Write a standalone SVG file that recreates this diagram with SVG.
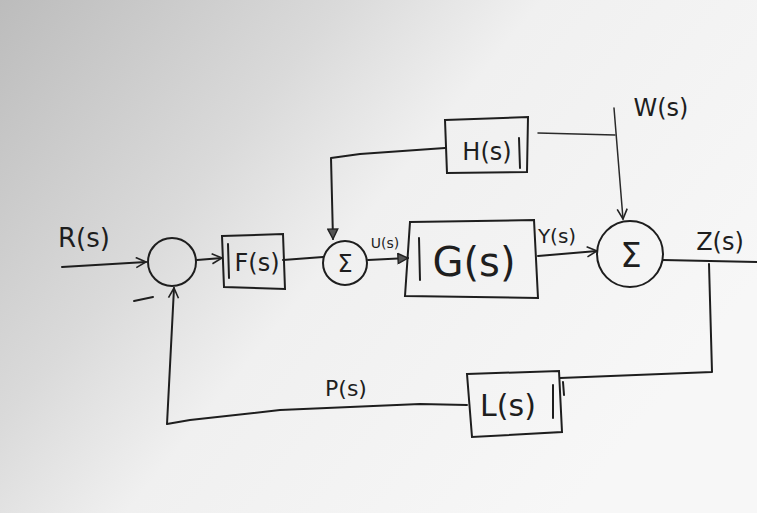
<svg xmlns="http://www.w3.org/2000/svg" width="757" height="513" viewBox="0 0 757 513">
<defs>
<linearGradient id="bg" x1="0" y1="0" x2="1" y2="0.55">
<stop offset="0" stop-color="#bcbcbc"/>
<stop offset="0.35" stop-color="#dadada"/>
<stop offset="0.55" stop-color="#f0f0f0"/>
<stop offset="1" stop-color="#f7f7f7"/>
</linearGradient>
<marker id="open" viewBox="0 0 12 12" refX="11" refY="6" markerWidth="12" markerHeight="12" markerUnits="userSpaceOnUse" orient="auto">
<path d="M1,1 L11,6 L1,11" fill="none" stroke="#222" stroke-width="1.6"/>
</marker>
<marker id="tri" viewBox="0 0 12 12" refX="11" refY="6" markerWidth="12" markerHeight="12" markerUnits="userSpaceOnUse" orient="auto">
<path d="M1,1 L11,6 L1,11 Z" fill="#555" stroke="#222" stroke-width="1.4"/>
</marker>
</defs>
<style>
.ln{fill:none;stroke:#1e1e1e;stroke-width:2;stroke-linecap:round;stroke-linejoin:round}
.thin{fill:none;stroke:#2a2a2a;stroke-width:1.5;stroke-linecap:round}
.box{fill:none;stroke:#1e1e1e;stroke-width:2}
.t{font-family:"DejaVu Sans",sans-serif;font-weight:normal;fill:#1e1e1e;text-anchor:middle}
</style>
<rect width="757" height="513" fill="url(#bg)"/>
<g id="connectors">
<path class="ln" d="M62,267 L146,262" marker-end="url(#open)"/>
<path class="ln" d="M197,260 L222,258" marker-end="url(#open)"/>
<path class="ln" d="M283,260 L323,257"/>
<path class="ln" d="M445,148 L360,154 L331,158 L333,239" marker-end="url(#tri)"/>
<path class="ln" d="M368,260 L408,258" marker-end="url(#tri)"/>
<path class="ln" d="M538,256 L597,251" marker-end="url(#open)"/>
<path class="thin" d="M538,133 L615,135"/>
<path class="thin" d="M614,108 L623,219" marker-end="url(#open)"/>
<path class="ln" d="M663,260 L757,262"/>
<path class="ln" d="M709,264 L712,372 L560,378"/>
<path class="ln" d="M467,405 L420,404 L280,410 L190,420 L167,424 L174,288" marker-end="url(#open)"/>
<path class="ln" d="M134,301 L153,297"/>
</g>
<g id="sum1">
<circle class="ln" cx="172" cy="262" r="24"/>
</g>
<g id="F">
<path class="box" d="M222,236 L283,234 L285,289 L224,287 Z"/>
<path class="ln" d="M228,244 L229,278"/>
<text class="t" x="257" y="271" font-size="24">F(s)</text>
</g>
<g id="sum2">
<circle class="ln" cx="345" cy="263" r="22"/>
<text class="t" x="345" y="272" font-size="24">Σ</text>
</g>
<g id="G">
<path class="box" d="M410,222 L534,220 L538,298 L405,296 Z"/>
<path class="ln" d="M419,238 L420,280"/>
<text class="t" x="474" y="276" font-size="40">G(s)</text>
</g>
<g id="H">
<path class="box" d="M445,120 L528,117 L527,172 L447,173 Z"/>
<path class="ln" d="M519,138 L520,168"/>
<text class="t" x="487" y="160" font-size="24">H(s)</text>
</g>
<g id="sum3">
<circle class="ln" cx="630" cy="254" r="33"/>
<text class="t" x="631" y="267" font-size="34">Σ</text>
</g>
<g id="L">
<path class="box" d="M467,374 L559,371 L562,432 L472,437 Z"/>
<path class="ln" d="M553,385 L553,418"/>
<path class="ln" d="M563,382 L564,395"/>
<text class="t" x="508" y="416" font-size="30">L(s)</text>
</g>
<g id="labels">
<text class="t" x="84" y="247" font-size="26">R(s)</text>
<text class="t" x="385" y="248" font-size="14">U(s)</text>
<text class="t" x="557" y="243" font-size="20">Y(s)</text>
<text class="t" x="661" y="116" font-size="24">W(s)</text>
<text class="t" x="720" y="250" font-size="24">Z(s)</text>
<text class="t" x="346" y="396" font-size="22">P(s)</text>
</g>
</svg>
